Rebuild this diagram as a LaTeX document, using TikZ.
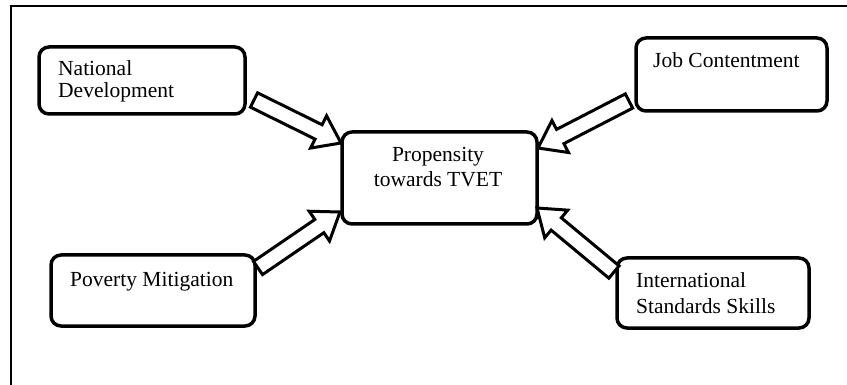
\documentclass[tikz,border=0pt]{standalone}
\usepackage{fontspec}
\setmainfont{Liberation Serif}
\usetikzlibrary{calc}
\tikzset{
  box/.style={draw, line width=3.5pt, rounded corners=10pt, fill=white, inner sep=0pt},
  lbl/.style={font=\fontsize{21.5}{25}\selectfont, inner sep=0pt},
  barrow/.style={draw, line width=3pt, fill=white, line join=miter},
  frameline/.style={line width=2pt},
}
\newcommand{\blockarrow}[2]{%
  \coordinate (bah) at ($(#2)!25pt!(#1)$);
  \draw[barrow] ($(#1)!8pt!90:(#2)$) -- ($(bah)!8pt!90:(#2)$) -- ($(bah)!18pt!90:(#2)$) -- (#2)
    -- ($(bah)!18pt!-90:(#2)$) -- ($(bah)!8pt!-90:(#2)$) -- ($(#1)!8pt!-90:(#2)$) -- cycle;}
\begin{document}
\begin{tikzpicture}[x=1pt,y=-1pt]
\useasboundingbox (0,0) rectangle (847,385);
% frame
\coordinate (frTR) at (847,6);
\coordinate (frTL) at (11,6);
\coordinate (frBL) at (11,385);
\draw[frameline] (frTR) -- (frTL) -- (frBL);
% boxes
\node[box, minimum width=206pt, minimum height=67pt] (nd) at (142,80.5) {};
\node[box, minimum width=191pt, minimum height=73pt] (jc) at (731.5,74.5) {};
\node[box, minimum width=195pt, minimum height=92pt] (ce) at (439.5,178) {};
\node[box, minimum width=204pt, minimum height=71pt] (pm) at (153,290.5) {};
\node[box, minimum width=192pt, minimum height=70pt] (is) at (713,293) {};
% labels (base anchor = baseline of last line)
\node[lbl, anchor=base west, align=left, font=\fontsize{21.5}{22}\selectfont] (ndt) at (58,98) {National\\Development};
\node[lbl, anchor=base west] (jct) at (653,68) {Job Contentment};
\node[lbl, anchor=base, align=center] (cet) at (438,187) {Propensity\\towards TVET};
\node[lbl, anchor=base west] (pmt) at (70,287) {Poverty Mitigation};
\node[lbl, anchor=base west, align=left, font=\fontsize{21.5}{26}\selectfont] (ist) at (636,313) {International\\Standards Skills};
% arrow ends
\coordinate (a1s) at (254,100);
\coordinate (a1t) at (341,143);
\coordinate (a2s) at (629,101);
\coordinate (a2t) at (538,148);
\coordinate (a3s) at (258,268);
\coordinate (a3t) at (340,212);
\coordinate (a4s) at (614,272);
\coordinate (a4t) at (537,208);
\blockarrow{a1s}{a1t}
\blockarrow{a2s}{a2t}
\blockarrow{a3s}{a3t}
\blockarrow{a4s}{a4t}
\end{tikzpicture}
\end{document}
